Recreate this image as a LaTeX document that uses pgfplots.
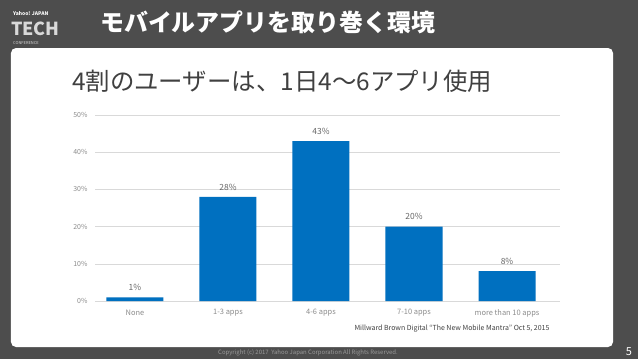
\documentclass[border=0pt]{standalone}
\usepackage{pgfplots}
\pgfplotsset{compat=1.18}
\usetikzlibrary{backgrounds}
\usepackage{fontspec}
\setmainfont{Noto Sans CJK JP}
\definecolor{bgdark}{HTML}{4D4D4D}
\definecolor{barblue}{HTML}{0070C0}
\definecolor{gridgray}{HTML}{D9D9D9}
\definecolor{ticktext}{HTML}{8C8C8C}
\definecolor{labeltext}{HTML}{666666}
\definecolor{titletext}{HTML}{404040}
\definecolor{copytext}{HTML}{9A9A9A}
\begin{document}
\begin{tikzpicture}
\begin{axis}[
  name=ax,
  scale only axis, width=465bp, height=186bp,
  xmin=-0.43, xmax=4.57, ymin=0, ymax=50,
  ytick={0,10,20,30,40,50},
  yticklabel={\pgfmathprintnumber{\tick}\%},
  xtick=data,
  xticklabels={None,1-3 apps,4-6 apps,7-10 apps,more than 10 apps},
  /pgf/number format/assume math mode=true,
  ymajorgrids, grid style={gridgray, line width=0.6bp},
  axis line style={draw=none},
  major tick length=0pt,
  tick label style={ticktext},
  yticklabel style={font=\fontsize{7}{7}\selectfont, xshift=-4bp},
  xticklabel style={font=\fontsize{7.5}{7.5}\selectfont, yshift=-5bp},
  nodes near coords={\pgfmathprintnumber{\pgfplotspointmeta}\%},
  nodes near coords style={labeltext, font=\fontsize{8.5}{8.5}\selectfont, yshift=3bp},
  clip=false,
]
\addplot[ybar, bar width=57bp, fill=barblue, draw=none] coordinates {(0,1) (1,28) (2,43) (3,20) (4,8)};
\end{axis}
\begin{scope}[shift={(ax.south west)}, xshift=-95bp, yshift=-58bp, x=1bp, y=1bp]
\begin{scope}[on background layer]
\fill[bgdark] (0,0) rectangle (638,359);
\fill[white, rounded corners=5bp] (11,12) rectangle (613,311);
\end{scope}
% logo
\node[anchor=west, white, font=\fontsize{5}{5}\selectfont\bfseries, inner sep=0] at (13,345) {\textit{Yahoo!} JAPAN};
\node[anchor=west, white!85!black, font=\fontsize{18}{18}\selectfont\bfseries, inner sep=0] at (11,330) {TECH};
\node[anchor=west, white!85!black, font=\fontsize{4}{4}\selectfont, inner sep=0] at (13,316) {CONFERENCE};
% slide title
\node[anchor=west, white, font=\fontsize{24}{24}\selectfont\bfseries, inner sep=0] at (100,337) {モバイルアプリを取り巻く環境};
% chart title
\node[anchor=west, titletext, font=\fontsize{24.5}{24.5}\selectfont, inner sep=0] at (72,278) {4割のユーザーは、1日4～6アプリ使用};
% footer
\node[copytext, font=\fontsize{6}{6}\selectfont, inner sep=0] at (308,6) {Copyright (c) 2017 \ Yahoo Japan Corporation All Rights Reserved.};
\node[white, font=\fontsize{11}{11}\selectfont, inner sep=0] at (629,7) {5};
% source
\node[titletext, font=\fontsize{7}{7}\selectfont, inner sep=0] at (452,30) {Millward Brown Digital ``The New Mobile Mantra'' Oct 5, 2015};
\pgfresetboundingbox
\path (0,0) rectangle (638,359);
\end{scope}
\end{tikzpicture}
\end{document}
